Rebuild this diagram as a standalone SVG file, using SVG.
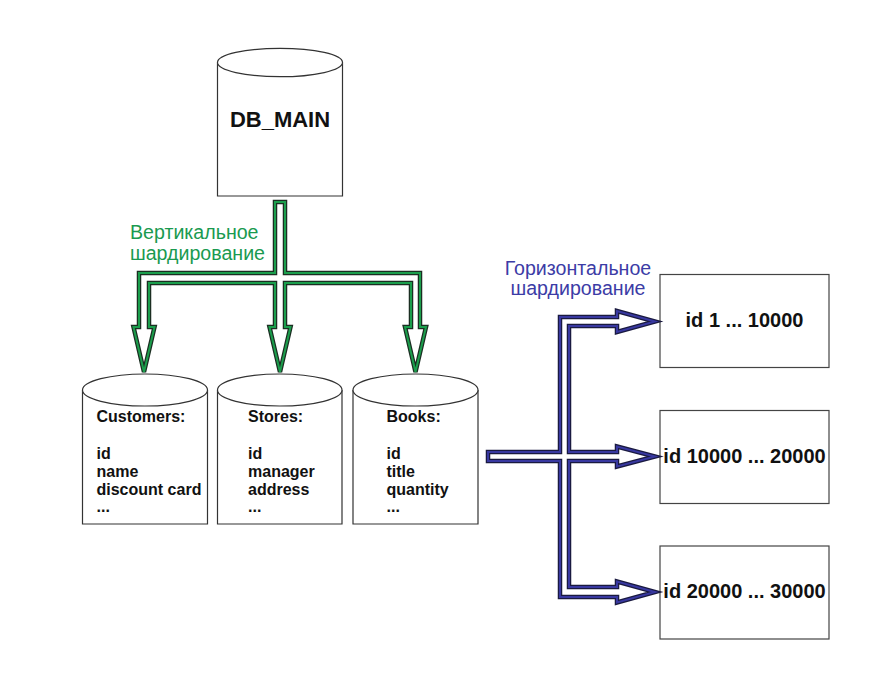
<svg xmlns="http://www.w3.org/2000/svg" width="880" height="690" viewBox="0 0 880 690">
<style>
.cyl{fill:#fff;stroke:#333;stroke-width:1.2}
.box{fill:#fff;stroke:#444;stroke-width:1.2}
.t{font-family:"Liberation Sans",Arial,sans-serif;font-weight:bold;fill:#111}
.lbl{font-family:"Liberation Sans",Arial,sans-serif;font-size:19.6px}
.ao{fill:#fff;stroke-linejoin:miter;stroke-width:4.5}
.ai{fill:none;stroke-linejoin:miter;stroke-width:2}
</style>
<rect width="880" height="690" fill="#fff"/>
<g id="db_main">
<path class="cyl" d="M217.5,62.5 V196 H342.5 V62.5"/>
<ellipse class="cyl" cx="280" cy="62.5" rx="62.5" ry="14.2"/>
<text class="t" x="280" y="127" font-size="22" text-anchor="middle">DB_MAIN</text>
</g>
<g id="customers">
<path class="cyl" d="M82.5,390 V524 H207.5 V390"/>
<ellipse class="cyl" cx="145" cy="390" rx="62.5" ry="16"/>
<text class="t" font-size="16"><tspan x="96.5" y="422">Customers:</tspan><tspan x="96.5" y="458.5">id</tspan><tspan x="96.5" y="476.5">name</tspan><tspan x="96.5" y="494.5">discount card</tspan><tspan x="96.5" y="512">...</tspan></text>
</g>
<g id="stores">
<path class="cyl" d="M217.5,390 V524 H342 V390"/>
<ellipse class="cyl" cx="279.75" cy="390" rx="62.25" ry="16"/>
<text class="t" font-size="16"><tspan x="248" y="422">Stores:</tspan><tspan x="248" y="458.5">id</tspan><tspan x="248" y="476.5">manager</tspan><tspan x="248" y="494.5">address</tspan><tspan x="248" y="512">...</tspan></text>
</g>
<g id="books">
<path class="cyl" d="M353,390 V524 H478 V390"/>
<ellipse class="cyl" cx="415.5" cy="390" rx="62.5" ry="16"/>
<text class="t" font-size="16"><tspan x="386.5" y="422">Books:</tspan><tspan x="386.5" y="458.5">id</tspan><tspan x="386.5" y="476.5">title</tspan><tspan x="386.5" y="494.5">quantity</tspan><tspan x="386.5" y="512">...</tspan></text>
</g>
<g id="shard1">
<rect class="box" x="660" y="274.5" width="169" height="93"/>
<text class="t" x="744.5" y="327" font-size="20" text-anchor="middle">id 1 ... 10000</text>
</g>
<g id="shard2">
<rect class="box" x="660" y="410.5" width="169" height="93"/>
<text class="t" x="744.5" y="462.5" font-size="20" text-anchor="middle">id 10000 ... 20000</text>
</g>
<g id="shard3">
<rect class="box" x="660" y="546" width="169" height="93"/>
<text class="t" x="744.5" y="598" font-size="20" text-anchor="middle">id 20000 ... 30000</text>
</g>
<g id="connectors">
<path id="vert" class="ao" stroke="#1b2e22" d="M275,202 H285 V273 H420 V327 H426 L415.5,372 L405,327 H411 V283 H285 V327 H290.5 L280,372 L269.5,327 H275 V283 H149 V327 H154.5 L144,372 L133.5,327 H139 V273 H275 Z"/>
<path class="ai" stroke="#1b9e4c" d="M275,202 H285 V273 H420 V327 H426 L415.5,372 L405,327 H411 V283 H285 V327 H290.5 L280,372 L269.5,327 H275 V283 H149 V327 H154.5 L144,372 L133.5,327 H139 V273 H275 Z"/>
<path id="horiz" class="ao" stroke="#1a1a40" d="M488,452 H560 V317 H617 V311 L655,321.5 L617,332 V326 H569 V452 H617 V446.5 L655,456.5 L617,466.5 V461 H569 V587 H617 V581.5 L655,592 L617,602.5 V597 H560 V461 H488 Z"/>
<path class="ai" stroke="#3838a0" d="M488,452 H560 V317 H617 V311 L655,321.5 L617,332 V326 H569 V452 H617 V446.5 L655,456.5 L617,466.5 V461 H569 V587 H617 V581.5 L655,592 L617,602.5 V597 H560 V461 H488 Z"/>
</g>
<text class="lbl" fill="#1a9a50"><tspan x="130" y="239">Вертикальное</tspan><tspan x="130" y="260">шардирование</tspan></text>
<text class="lbl" fill="#3c3ca6" text-anchor="middle"><tspan x="578" y="275">Горизонтальное</tspan><tspan x="578" y="295">шардирование</tspan></text>
</svg>
